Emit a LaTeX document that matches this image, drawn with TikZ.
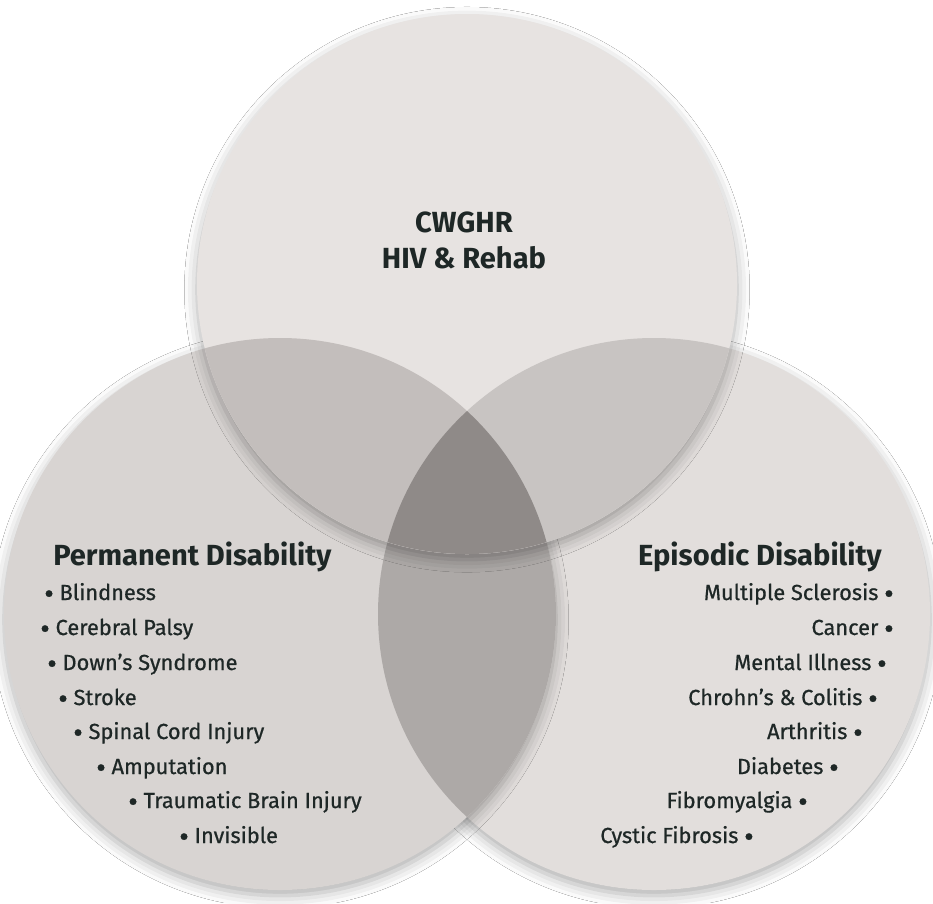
\documentclass[tikz,border=0pt]{standalone}
\usepackage{fontspec}
\setmainfont{Fira Sans}
\newfontfamily\listfont{Fira Sans}[FakeBold=0.7]
\usetikzlibrary{shadows.blur}

\definecolor{inkcol}{HTML}{1E2726}
\definecolor{topfill}{HTML}{E7E3E1}
\definecolor{leftfill}{HTML}{D8D4D2}
\definecolor{rightfill}{HTML}{E2DEDC}
\definecolor{tlfill}{HTML}{C3BEBC}
\definecolor{trfill}{HTML}{C8C4C2}
\definecolor{lrfill}{HTML}{ADA9A7}
\definecolor{midfill}{HTML}{8F8A88}

% heavier list bullet
\newcommand{\bigbul}{\raisebox{-0.32ex}{\scalebox{1.35}{•}}}

\begin{document}
\begin{tikzpicture}[
  x=0.025cm, y=-0.025cm,
  disc/.style={fill=#1, draw=none},
  soft/.style={blur shadow={shadow xshift=0pt, shadow yshift=-4pt,
    shadow blur radius=9pt, shadow opacity=32}},
  headtext/.style={font=\bfseries\fontsize{20.7}{24}\selectfont, text=inkcol, inner sep=0pt},
  itemtext/.style={font=\listfont\fontsize{15.5}{18}\selectfont, text=inkcol, inner sep=0pt}
]
\useasboundingbox[fill=white] (0,0) rectangle (933,903);

% circle centres
\coordinate (ctop) at (467,284);
\coordinate (cleft) at (280,614);
\coordinate (cright) at (654,614);

% lower circles and their overlap
\path[soft, disc=rightfill] (cright) circle (276);
\path[soft, disc=leftfill] (cleft) circle (276);
\begin{scope}
  \clip (cleft) circle (276);
  \fill[lrfill] (cright) circle (276);
\end{scope}

% top circle and its overlaps
\path[soft, disc=topfill] (ctop) circle (270);
\begin{scope}
  \clip (ctop) circle (270);
  \fill[tlfill] (cleft) circle (276);
  \fill[trfill] (cright) circle (276);
  \clip (cleft) circle (276);
  \fill[midfill] (cright) circle (276);
\end{scope}

% top label
\node[headtext, anchor=base] (cwghr) at (464,232) {CWGHR};
\node[headtext, anchor=base] (hivrehab) at (464,268) {HIV \& Rehab};

% Permanent disability
\node[headtext, anchor=base west] (perm) at (53,565) {Permanent Disability};
\node[itemtext, anchor=base west] (blind) at (44,600) {\bigbul{} Blindness};
\node[itemtext, anchor=base west] (palsy) at (40,635) {\bigbul{} Cerebral Palsy};
\node[itemtext, anchor=base west] (downs) at (47,670) {\bigbul{} Down’s Syndrome};
\node[itemtext, anchor=base west] (stroke) at (58,705) {\bigbul{} Stroke};
\node[itemtext, anchor=base west] (spinal) at (73,739) {\bigbul{} Spinal Cord Injury};
\node[itemtext, anchor=base west] (amput) at (96,774) {\bigbul{} Amputation};
\node[itemtext, anchor=base west] (brain) at (128,808) {\bigbul{} Traumatic Brain Injury};
\node[itemtext, anchor=base west] (invis) at (179,843) {\bigbul{} Invisible};

% Episodic disability
\node[headtext, anchor=base east] (epis) at (882,565) {Episodic Disability};
\node[itemtext, anchor=base east] (ms) at (894,600) {Multiple Sclerosis \bigbul};
\node[itemtext, anchor=base east] (cancer) at (894,635) {Cancer \bigbul};
\node[itemtext, anchor=base east] (mental) at (887,670) {Mental Illness \bigbul};
\node[itemtext, anchor=base east] (crohn) at (878,705) {Chrohn’s \& Colitis \bigbul};
\node[itemtext, anchor=base east] (arthr) at (863,739) {Arthritis \bigbul};
\node[itemtext, anchor=base east] (diab) at (839,774) {Diabetes \bigbul};
\node[itemtext, anchor=base east] (fibro) at (808,808) {Fibromyalgia \bigbul};
\node[itemtext, anchor=base east] (cystic) at (754,843) {Cystic Fibrosis \bigbul};

\end{tikzpicture}
\end{document}
